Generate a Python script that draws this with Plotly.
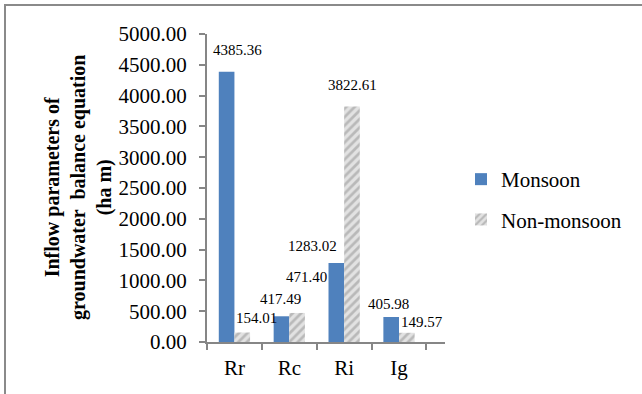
import plotly.graph_objects as go

# Inflow components of the groundwater balance equation (ha m)
categories = ["Rr", "Rc", "Ri", "Ig"]
monsoon = [4385.36, 417.49, 1283.02, 405.98]
non_monsoon = [154.01, 471.40, 3822.61, 149.57]
y_ticks = [0, 500, 1000, 1500, 2000, 2500, 3000, 3500, 4000, 4500, 5000]

# pixel nudges for the value labels (x, y) relative to each category / bar top
mon_label_shift = [(3, 22), (-9, 17), (-32, 17), (-11, 13)]
non_label_shift = [(22, 15), (17, 36), (8, 22), (23, 11)]

W, H = 642, 394
ML, MR, MT, MB = 207, 197, 34, 52
PW, PH = W - ML - MR, H - MT - MB
FONT = "Liberation Serif"
AXIS_GREY = "#868686"


def px_x(px):
    return (px - ML) / PW


def px_y(py):
    return (H - MB - py) / PH


fig = go.Figure()
fig.add_trace(go.Bar(
    x=categories, y=monsoon, name="Monsoon",
    marker=dict(color="#4F81BD", line=dict(width=0)),
    legendgroup="a",
))
fig.add_trace(go.Bar(
    x=categories, y=non_monsoon, name="Non-monsoon",
    marker=dict(
        color="#e2e2e2",
        line=dict(width=0),
        pattern=dict(shape="/", fgcolor="#8f8f8f", bgcolor="#e2e2e2",
                     size=6, solidity=0.45),
    ),
    legendgroup="b",
))

annotations = []
for i, cat in enumerate(categories):
    for val, (dx, dy) in ((monsoon[i], mon_label_shift[i]),
                          (non_monsoon[i], non_label_shift[i])):
        annotations.append(dict(
            x=cat, y=val, xref="x", yref="y",
            text=f"{val:.2f}", showarrow=False,
            xanchor="center", yanchor="middle",
            xshift=dx, yshift=dy,
            font=dict(family=FONT, size=15, color="black"),
        ))

# y-axis title, three lines, bold
annotations.append(dict(
    x=px_x(78), y=0.5, xref="paper", yref="paper",
    text="Inflow parameters of<br>groundwater  balance equation<br>(ha m)",
    showarrow=False, textangle=-90, xanchor="center", yanchor="middle",
    font=dict(family=FONT, size=20, color="black", weight="bold"),
))

# outer chart frame (left and top edges visible)
frame = dict(type="line", xref="paper", yref="paper",
             line=dict(color="#8a8a8a", width=2), layer="below")
shapes = [
    dict(frame, x0=px_x(5), x1=px_x(5), y0=px_y(4), y1=px_y(400)),
    dict(frame, x0=px_x(4), x1=px_x(650), y0=px_y(5), y1=px_y(5)),
]

fig.update_layout(
    width=W, height=H,
    margin=dict(l=ML, r=MR, t=MT, b=MB, pad=0),
    paper_bgcolor="white", plot_bgcolor="white",
    barmode="group", bargap=0.43, bargroupgap=0,
    font=dict(family=FONT, color="black"),
    showlegend=True,
    legend=dict(
        x=px_x(461), y=px_y(159), xanchor="left", yanchor="top",
        xref="paper", yref="paper",
        font=dict(family=FONT, size=21, color="black"),
        traceorder="grouped", tracegroupgap=10,
        bgcolor="rgba(0,0,0,0)", itemclick=False,
    ),
    annotations=annotations,
    shapes=shapes,
    xaxis=dict(
        type="category", showgrid=False,
        showline=True, linecolor=AXIS_GREY, linewidth=2,
        ticks="outside", tickson="boundaries", ticklen=6,
        tickcolor=AXIS_GREY, tickwidth=2,
        tickfont=dict(family=FONT, size=21, color="black"),
        ticklabelstandoff=6,
    ),
    yaxis=dict(
        range=[0, 5000], tickvals=y_ticks,
        ticktext=[f"{v:.2f}" for v in y_ticks],
        showgrid=False, zeroline=False,
        showline=True, linecolor=AXIS_GREY, linewidth=2,
        ticks="outside", ticklen=6, tickcolor=AXIS_GREY, tickwidth=2,
        tickfont=dict(family=FONT, size=21, color="black"),
        ticklabelstandoff=8,
    ),
)

fig.write_html("out.html")
